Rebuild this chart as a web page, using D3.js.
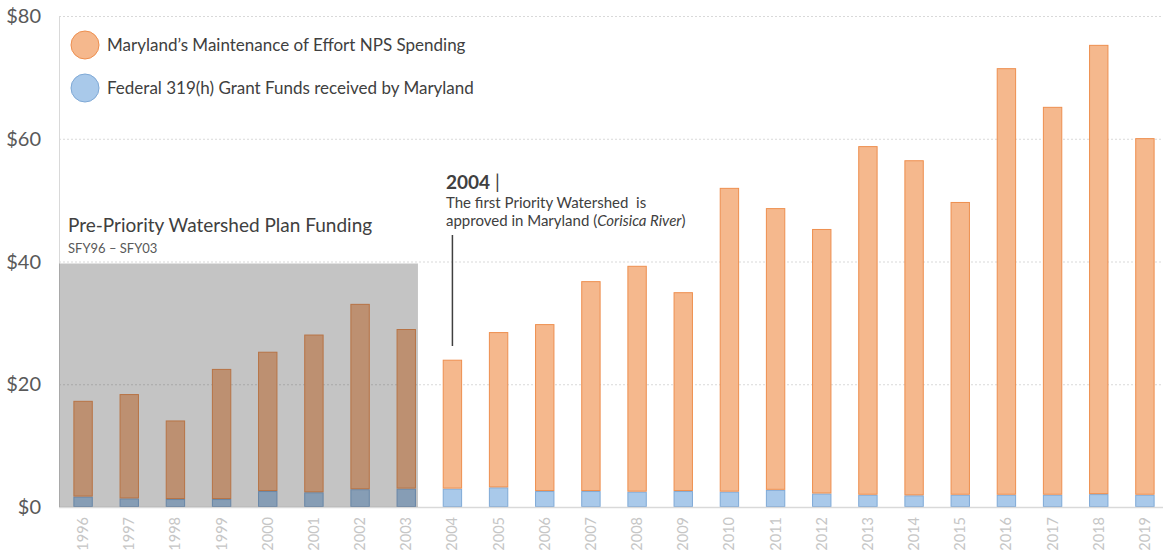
<!DOCTYPE html>
<html>
<head>
<meta charset="utf-8">
<script src="https://cdn.jsdelivr.net/npm/d3@7"></script>
<style>
  html, body { margin: 0; padding: 0; background: #fff; }
  svg { display: block; font-family: Lato, "Open Sans", sans-serif; }
</style>
</head>
<body>
<svg id="chart" width="1163" height="553"></svg>
<script>
const years = ["1996","1997","1998","1999","2000","2001","2002","2003","2004","2005","2006","2007","2008","2009","2010","2011","2012","2013","2014","2015","2016","2017","2018","2019"];
const federalFunds = [1.7,1.4,1.3,1.3,2.6,2.4,2.9,3.0,3.0,3.2,2.6,2.6,2.5,2.6,2.5,2.8,2.2,2.0,1.9,2.0,2.0,2.0,2.1,2.0];
const marylandSpending = [15.6,17.0,12.8,21.2,22.7,25.7,30.2,26.0,21.0,25.3,27.2,34.2,36.8,32.4,49.5,45.9,43.1,56.8,54.6,47.7,69.5,63.2,73.2,58.1];
const yTicks = [0,20,40,60,80];
const seriesNames = ["Maryland\u2019s Maintenance of Effort NPS Spending","Federal 319(h) Grant Funds received by Maryland"];
const preYears = ["1996","1997","1998","1999","2000","2001","2002","2003"];

const svg = d3.select("#chart");
const x = d3.scaleBand().domain(years).range([60,1168]).paddingInner(0.58).paddingOuter(0.29);
const y = d3.scaleLinear().domain([0,80]).range([507,16]);

const rows = years.map((yr,i)=>({year:yr, federal:federalFunds[i], md:marylandSpending[i]}));
const stack = d3.stack().keys(["federal","md"])(rows);

// gridlines
svg.append("g").selectAll("line").data(yTicks.filter(d=>d>0)).join("line")
  .attr("x1",59).attr("x2",1163).attr("y1",d=>y(d)+0.5).attr("y2",d=>y(d)+0.5)
  .attr("stroke","#d9d9d9").attr("stroke-dasharray","2,2").attr("stroke-width",1);

// y axis line
svg.append("line").attr("x1",59.5).attr("x2",59.5).attr("y1",y(80)).attr("y2",y(0))
  .attr("stroke","#d9d9d9").attr("stroke-width",1);

// y tick labels
svg.append("g").selectAll("text").data(yTicks).join("text")
  .attr("x",41).attr("y",d=>y(d)+7).attr("text-anchor","end")
  .attr("font-size",20).attr("fill","#595959").text(d=>"$"+d);

// bars
const fills = {federal:"#a9c9ea", md:"#f5b88d"};
const strokes = {federal:"#7fa9d6", md:"#ee8f4f"};
svg.append("g").selectAll("g").data(stack).join("g")
  .attr("fill",d=>fills[d.key]).attr("stroke",d=>strokes[d.key]).attr("stroke-width",1)
  .selectAll("rect").data(d=>d).join("rect")
  .attr("x",d=>x(d.data.year)+0.5).attr("width",x.bandwidth()-1)
  .attr("y",d=>y(d[1])+0.5).attr("height",d=>Math.max(0,y(d[0])-y(d[1])-1));

// x axis line
svg.append("line").attr("x1",59).attr("x2",1163).attr("y1",y(0)+0.5).attr("y2",y(0)+0.5)
  .attr("stroke","#d9d9d9").attr("stroke-width",1.5);

// x labels
svg.append("g").selectAll("text").data(years).join("text")
  .attr("transform",d=>`translate(${x(d)+x.bandwidth()/2+5},517) rotate(-90)`)
  .attr("text-anchor","end").attr("font-size",14.5).attr("fill","#c6c6c6").text(d=>d);

// gray overlay for pre-priority period
const boxLeft = 59;
const boxRight = x(preYears[preYears.length-1]) + x.bandwidth() + 2;
svg.append("rect").attr("x",boxLeft).attr("y",y(40)+2).attr("width",boxRight-boxLeft).attr("height",y(0)-y(40)-2)
  .attr("fill","#2a2a2a").attr("opacity",0.28);

svg.append("text").attr("x",68).attr("y",232).attr("font-size",19).attr("fill","#404040")
  .text("Pre-Priority Watershed Plan Funding");
svg.append("text").attr("x",68).attr("y",253).attr("font-size",13).attr("fill","#595959")
  .text("SFY96 \u2013 SFY03");

// annotation
const ax = x("2004") + x.bandwidth()/2;
svg.append("line").attr("x1",ax).attr("x2",ax).attr("y1",235).attr("y2",346)
  .attr("stroke","#404040").attr("stroke-width",1.5);
const t1 = svg.append("text").attr("x",446).attr("y",189).attr("font-size",19).attr("fill","#404040");
t1.append("tspan").attr("font-weight","bold").text("2004");
t1.append("tspan").attr("font-weight","normal").text(" |");
svg.append("text").attr("x",446).attr("y",208).attr("font-size",15).attr("fill","#404040")
  .style("white-space","pre").text("The first Priority Watershed  is");
const t3 = svg.append("text").attr("x",446).attr("y",226).attr("font-size",15).attr("fill","#404040");
t3.append("tspan").text("approved in Maryland (");
t3.append("tspan").attr("font-style","italic").text("Corisica River");
t3.append("tspan").text(")");

// legend
const legend = svg.append("g");
const legendColors = [["#f5b88d","#ee8f4f"],["#a9c9ea","#7fa9d6"]];
seriesNames.forEach((name,i)=>{
  const cy = 45 + i*43;
  legend.append("circle").attr("cx",85).attr("cy",cy).attr("r",14)
    .attr("fill",legendColors[i][0]).attr("stroke",legendColors[i][1]).attr("stroke-width",1);
  legend.append("text").attr("x",107).attr("y",cy+6).attr("font-size",17).attr("fill","#404040").text(name);
});
</script>
</body>
</html>
